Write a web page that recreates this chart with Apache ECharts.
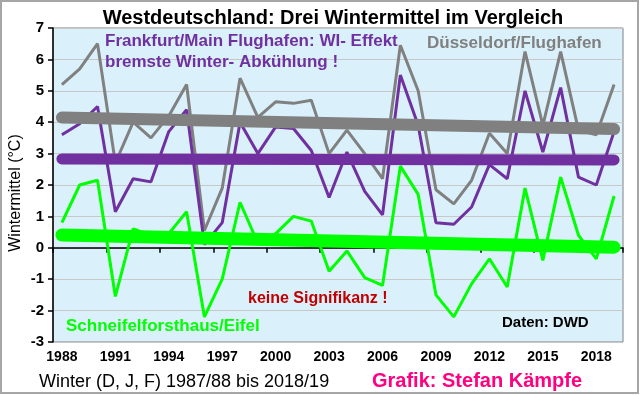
<!DOCTYPE html>
<html>
<head>
<meta charset="utf-8">
<script src="https://cdn.jsdelivr.net/npm/echarts@6/dist/echarts.min.js"></script>
<style>html,body{margin:0;padding:0;background:#fff;}#c{width:640px;height:395px;}</style>
</head>
<body>
<div id="c"></div>
<script>
const years = ['1988','1989','1990','1991','1992','1993','1994','1995','1996','1997','1998','1999','2000','2001','2002','2003','2004','2005','2006','2007','2008','2009','2010','2011','2012','2013','2014','2015','2016','2017','2018','2019'];
const duesseldorf = [5.2, 5.7, 6.5, 2.7, 4.0, 3.5, 4.2, 5.2, 0.55, 1.9, 5.4, 4.15, 4.65, 4.6, 4.7, 3.0, 3.75, 3.0, 2.2, 6.45, 5.0, 1.85, 1.4, 2.15, 3.65, 3.0, 6.25, 3.9, 6.25, 3.75, 3.6, 5.2];
const frankfurt = [3.6, 3.95, 4.5, 1.15, 2.2, 2.1, 3.7, 4.4, 0.1, 0.8, 4.0, 3.0, 3.85, 3.8, 3.1, 1.6, 3.05, 1.8, 1.05, 5.5, 3.9, 0.8, 0.75, 1.3, 2.65, 2.2, 5.0, 3.05, 5.1, 2.25, 2.0, 3.7];
const schneifel = [0.8, 2.0, 2.15, -1.55, 0.6, 0.4, 0.45, 1.15, -2.2, -1.0, 1.45, 0.15, 0.45, 1.0, 0.85, -0.75, -0.1, -0.95, -1.2, 2.6, 1.7, -1.5, -2.2, -1.15, -0.35, -1.25, 1.9, -0.4, 2.25, 0.4, -0.35, 1.65];
const trendYears = ['1988', '2019'];
const duesseldorfTrend = [4.15, 3.78];
const frankfurtTrend = [2.83, 2.8];
const schneifelTrend = [0.41, 0.02];
const yTicks = [-3, 7, 1];

const FONT = '"Liberation Sans", Arial, sans-serif';
const GRAY = '#808080', PURPLE = '#7030a0', GREEN = '#00ff00';

function pairs(xs, ys) { return xs.map((x, i) => [x, ys[i]]); }

const chart = echarts.init(document.getElementById('c'), null, {renderer: 'canvas'});
chart.setOption({
  animation: false,
  backgroundColor: '#ffffff',
  textStyle: {fontFamily: FONT},
  title: {
    text: 'Westdeutschland: Drei Wintermittel im Vergleich',
    left: 328, textAlign: 'center', top: 3,
    textStyle: {fontFamily: FONT, fontSize: 20, fontWeight: 'bold', color: '#000'}
  },
  grid: {
    left: 53, right: 17, top: 28, bottom: 53,
    show: true, backgroundColor: '#daf1fb', borderColor: '#808080', borderWidth: 1
  },
  xAxis: {
    type: 'category', data: years, boundaryGap: true,
    axisLine: {lineStyle: {color: '#000', width: 1.5}},
    axisTick: {show: true, interval: 2, length: 5, lineStyle: {color: '#000', width: 1.5}},
    axisLabel: {interval: 2, color: '#000', fontFamily: FONT, fontSize: 14, fontWeight: 'bold', margin: 8},
    splitLine: {show: false}
  },
  yAxis: {
    type: 'value', min: yTicks[0], max: yTicks[1], interval: yTicks[2],
    axisLine: {show: true, lineStyle: {color: '#000', width: 1.5}},
    axisTick: {show: true, length: 5, lineStyle: {color: '#000', width: 1.5}},
    axisLabel: {color: '#000', fontFamily: FONT, fontSize: 15, fontWeight: 'bold', margin: 9},
    splitLine: {show: true, lineStyle: {color: '#c8c8c8', width: 1}}
  },
  series: [
    {type: 'line', data: duesseldorf, symbol: 'none', lineStyle: {color: GRAY, width: 3}, z: 2},
    {type: 'line', data: frankfurt, symbol: 'none', lineStyle: {color: PURPLE, width: 3}, z: 3},
    {type: 'line', data: schneifel, symbol: 'none', lineStyle: {color: GREEN, width: 3}, z: 4},
    {type: 'line', data: pairs(trendYears, duesseldorfTrend), symbol: 'none', lineStyle: {color: GRAY, width: 12, cap: 'round'}, z: 5},
    {type: 'line', data: pairs(trendYears, frankfurtTrend), symbol: 'none', lineStyle: {color: PURPLE, width: 11, cap: 'round'}, z: 5},
    {type: 'line', data: pairs(trendYears, schneifelTrend), symbol: 'none', lineStyle: {color: GREEN, width: 13, cap: 'round'}, z: 5}
  ],
  graphic: [
    {type: 'rect', shape: {x: 1, y: 1, width: 637, height: 392}, style: {fill: 'none', stroke: '#a6a6a6', lineWidth: 2}, z: 100, silent: true},
    {type: 'text', x: 16, y: 193, rotation: Math.PI / 2, style: {text: 'Wintermittel (°C)', font: '16px ' + FONT, fill: '#000', align: 'center', verticalAlign: 'middle'}},
    {type: 'text', x: 39, y: 382, style: {text: 'Winter (D, J, F) 1987/88 bis 2018/19', font: '18px ' + FONT, fill: '#000', align: 'left', verticalAlign: 'middle'}},
    {type: 'text', x: 372, y: 381, style: {text: 'Grafik: Stefan Kämpfe', font: 'bold 20px ' + FONT, fill: '#ff0080', align: 'left', verticalAlign: 'middle'}},
    {type: 'text', x: 105, y: 41, z: 50, style: {text: 'Frankfurt/Main Flughafen: WI- Effekt', font: 'bold 17px ' + FONT, fill: PURPLE, align: 'left', verticalAlign: 'middle'}},
    {type: 'text', x: 105, y: 62, z: 50, style: {text: 'bremste Winter- Abkühlung !', font: 'bold 17px ' + FONT, fill: PURPLE, align: 'left', verticalAlign: 'middle'}},
    {type: 'text', x: 427, y: 43, z: 50, style: {text: 'Düsseldorf/Flughafen', font: 'bold 17px ' + FONT, fill: GRAY, align: 'left', verticalAlign: 'middle'}},
    {type: 'text', x: 248, y: 299, z: 50, style: {text: 'keine Signifikanz !', font: 'bold 16px ' + FONT, fill: '#c00000', align: 'left', verticalAlign: 'middle'}},
    {type: 'text', x: 66, y: 326, z: 50, style: {text: 'Schneifelforsthaus/Eifel', font: 'bold 17px ' + FONT, fill: GREEN, align: 'left', verticalAlign: 'middle'}},
    {type: 'text', x: 502, y: 323, z: 50, style: {text: 'Daten: DWD', font: 'bold 15px ' + FONT, fill: '#000', align: 'left', verticalAlign: 'middle'}}
  ]
});
</script>
</body>
</html>
